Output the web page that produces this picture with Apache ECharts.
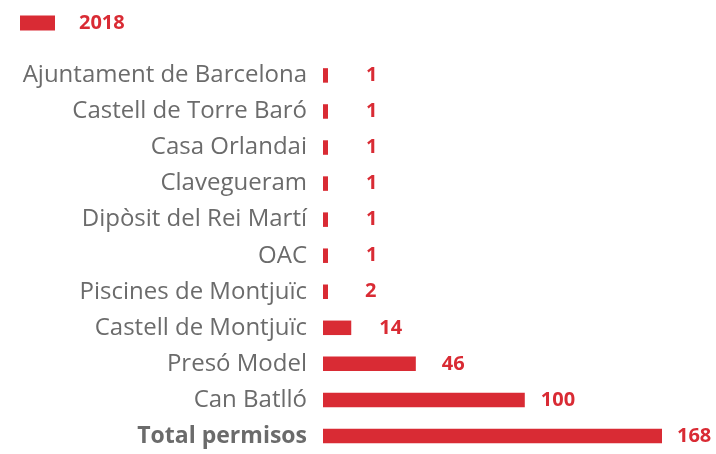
<!DOCTYPE html>
<html><head><meta charset="utf-8">
<script src="https://cdn.jsdelivr.net/npm/echarts@6/dist/echarts.min.js"></script>
<style>html,body{margin:0;padding:0;background:#fff}#c{width:716px;height:454px}</style>
</head><body><div id="c"></div>
<script>
var categories = ["Ajuntament de Barcelona","Castell de Torre Baró","Casa Orlandai","Clavegueram","Dipòsit del Rei Martí","OAC","Piscines de Montjuïc","Castell de Montjuïc","Presó Model","Can Batlló","Total permisos"];
var values2018 = [1,1,1,1,1,1,2,14,46,100,168];
var seriesName = "2018";
// label gap (style only), top to bottom
var labelGaps = [38,38,38,38,38,38,37,28,26,16,15];

var RED = "#d92b34";
var chart = echarts.init(document.getElementById('c'));
chart.setOption({
  animation: false,
  legend: {
    left: 15, top: 8, itemWidth: 35, itemHeight: 15, icon: 'rect',
    textStyle: {color: RED, fontFamily: 'Open Sans', fontWeight: 'bold', fontSize: 20, padding: [0,0,0,19]},
    data: [seriesName]
  },
  grid: {left: 323, top: 57.4, height: 399, width: 339},
  xAxis: {type: 'value', min: 0, max: 168, show: false},
  yAxis: {
    type: 'category', inverse: true, data: categories,
    axisLine: {show: false}, axisTick: {show: false},
    axisLabel: {
      margin: 16, color: '#6b6b6b', fontFamily: 'Open Sans', fontSize: 24,
      formatter: function (v) { return v === 'Total permisos' ? '{b|' + v + '}' : v; },
      rich: {b: {fontWeight: 'bold', color: '#6b6b6b', fontFamily: 'Open Sans', fontSize: 23}}
    }
  },
  series: [{
    name: seriesName, type: 'bar', barWidth: 14.5, barMinHeight: 5,
    itemStyle: {color: RED},
    data: values2018.map(function (v, i) {
      return {value: v, label: {distance: labelGaps[i]}};
    }),
    label: {
      show: true, position: 'right', color: RED,
      fontFamily: 'Open Sans', fontWeight: 'bold', fontSize: 20
    }
  }]
});
</script></body></html>
